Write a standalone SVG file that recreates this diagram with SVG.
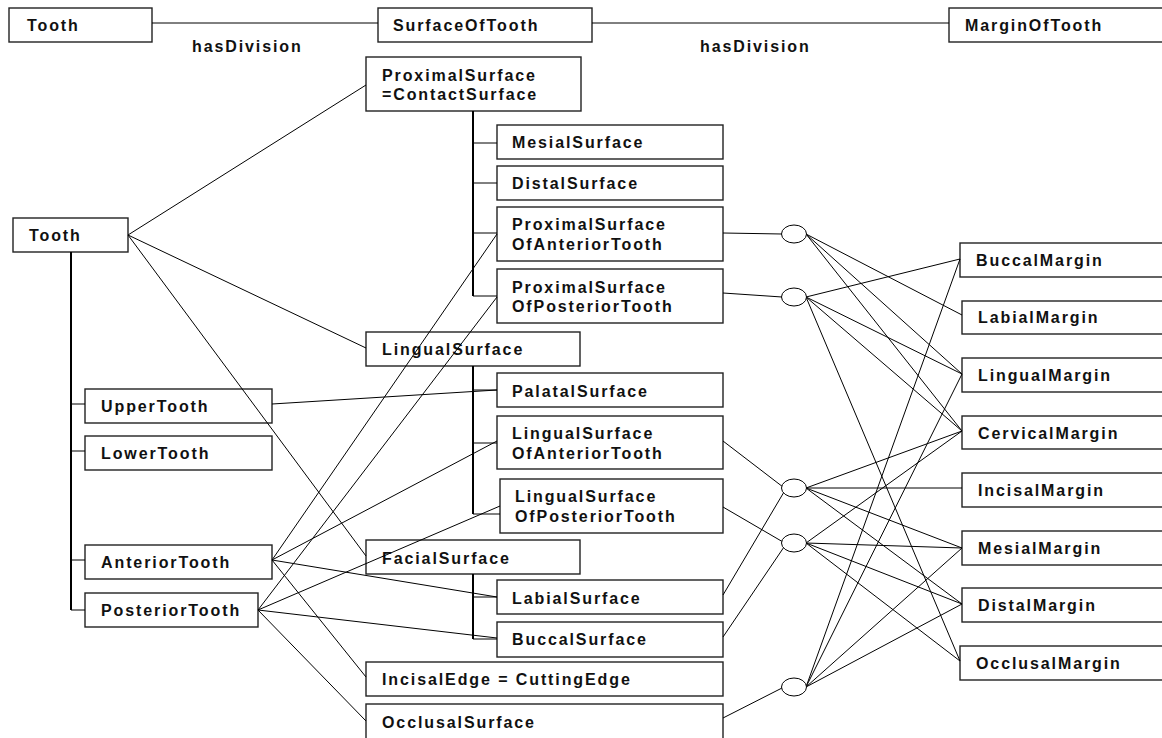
<svg xmlns="http://www.w3.org/2000/svg" width="1162" height="738" viewBox="0 0 1162 738">
<style>
.box{fill:#fff;stroke:#222;stroke-width:1.4}
.t{font-family:"Liberation Sans",Arial,sans-serif;font-weight:bold;font-size:16px;letter-spacing:1.9px;fill:#111}
.c line{stroke:#000;stroke-width:1;fill:none}
.c .thick{stroke-width:2}
.el{fill:#fff;stroke:#000;stroke-width:1}
</style>
<rect width="1162" height="738" fill="#fff"/>
<g id="top-tooth"><rect class="box" x="9" y="8" width="143" height="34"/><text class="t" x="27" y="31">Tooth</text></g>
<g id="top-surface"><rect class="box" x="378" y="8" width="214" height="34"/><text class="t" x="393" y="31">SurfaceOfTooth</text></g>
<g id="top-margin"><rect class="box" x="949" y="8" width="230" height="34"/><text class="t" x="965" y="31">MarginOfTooth</text></g>
<g id="lbl1"><text class="t" x="192" y="52">hasDivision</text></g>
<g id="lbl2"><text class="t" x="700" y="52">hasDivision</text></g>
<g id="tooth"><rect class="box" x="13" y="218" width="115" height="34"/><text class="t" x="29" y="241">Tooth</text></g>
<g id="upper"><rect class="box" x="85" y="389" width="187" height="34"/><text class="t" x="101" y="412">UpperTooth</text></g>
<g id="lower"><rect class="box" x="85" y="436" width="187" height="34"/><text class="t" x="101" y="459">LowerTooth</text></g>
<g id="anterior"><rect class="box" x="85" y="545" width="187" height="34"/><text class="t" x="101" y="568">AnteriorTooth</text></g>
<g id="posterior"><rect class="box" x="85" y="593" width="173" height="34"/><text class="t" x="101" y="616">PosteriorTooth</text></g>
<g id="proximal"><rect class="box" x="366" y="57" width="215" height="54"/><text class="t" x="382" y="81">ProximalSurface</text><text class="t" x="382" y="100">=ContactSurface</text></g>
<g id="mesialS"><rect class="box" x="497" y="125" width="226" height="34"/><text class="t" x="512" y="148">MesialSurface</text></g>
<g id="distalS"><rect class="box" x="497" y="166" width="226" height="34"/><text class="t" x="512" y="189">DistalSurface</text></g>
<g id="proxAnt"><rect class="box" x="497" y="207" width="226" height="54"/><text class="t" x="512" y="230">ProximalSurface</text><text class="t" x="512" y="250">OfAnteriorTooth</text></g>
<g id="proxPost"><rect class="box" x="497" y="269" width="226" height="54"/><text class="t" x="512" y="293">ProximalSurface</text><text class="t" x="512" y="312">OfPosteriorTooth</text></g>
<g id="lingual"><rect class="box" x="366" y="332" width="214" height="34"/><text class="t" x="382" y="355">LingualSurface</text></g>
<g id="palatal"><rect class="box" x="497" y="373" width="226" height="34"/><text class="t" x="512" y="397">PalatalSurface</text></g>
<g id="lingAnt"><rect class="box" x="497" y="416" width="226" height="53"/><text class="t" x="512" y="439">LingualSurface</text><text class="t" x="512" y="459">OfAnteriorTooth</text></g>
<g id="lingPost"><rect class="box" x="500" y="479" width="223" height="54"/><text class="t" x="515" y="502">LingualSurface</text><text class="t" x="515" y="522">OfPosteriorTooth</text></g>
<g id="facial"><rect class="box" x="366" y="540" width="214" height="34"/><text class="t" x="382" y="564">FacialSurface</text></g>
<g id="labialS"><rect class="box" x="497" y="580" width="226" height="34"/><text class="t" x="512" y="604">LabialSurface</text></g>
<g id="buccalS"><rect class="box" x="497" y="622" width="226" height="35"/><text class="t" x="512" y="645">BuccalSurface</text></g>
<g id="incisalE"><rect class="box" x="366" y="662" width="357" height="34"/><text class="t" x="382" y="685">IncisalEdge = CuttingEdge</text></g>
<g id="occlusalS"><rect class="box" x="366" y="704" width="357" height="44"/><text class="t" x="382" y="728">OcclusalSurface</text></g>
<g id="buccalM"><rect class="box" x="960" y="243" width="220" height="34"/><text class="t" x="976" y="266">BuccalMargin</text></g>
<g id="labialM"><rect class="box" x="962" y="301" width="220" height="33"/><text class="t" x="978" y="323">LabialMargin</text></g>
<g id="lingualM"><rect class="box" x="962" y="358" width="220" height="34"/><text class="t" x="978" y="381">LingualMargin</text></g>
<g id="cervicalM"><rect class="box" x="962" y="416" width="220" height="33"/><text class="t" x="978" y="439">CervicalMargin</text></g>
<g id="incisalM"><rect class="box" x="962" y="473" width="220" height="34"/><text class="t" x="978" y="496">IncisalMargin</text></g>
<g id="mesialM"><rect class="box" x="962" y="531" width="220" height="34"/><text class="t" x="978" y="554">MesialMargin</text></g>
<g id="distalM"><rect class="box" x="962" y="588" width="220" height="34"/><text class="t" x="978" y="611">DistalMargin</text></g>
<g id="occlusalM"><rect class="box" x="960" y="646" width="220" height="34"/><text class="t" x="976" y="669">OcclusalMargin</text></g>
<g class="c" id="connectors">
<line x1="152" y1="23" x2="378" y2="23"/>
<line x1="592" y1="23" x2="949" y2="23"/>
<line class="thick" x1="71" y1="252" x2="71" y2="610"/>
<line x1="71" y1="404" x2="85" y2="404"/>
<line x1="71" y1="451" x2="85" y2="451"/>
<line x1="71" y1="560" x2="85" y2="560"/>
<line x1="71" y1="610" x2="85" y2="610"/>
<line class="thick" x1="473" y1="111" x2="473" y2="296"/>
<line x1="473" y1="143" x2="497" y2="143"/>
<line x1="473" y1="183" x2="497" y2="183"/>
<line x1="473" y1="233" x2="497" y2="233"/>
<line x1="473" y1="296" x2="497" y2="296"/>
<line class="thick" x1="473" y1="366" x2="473" y2="514"/>
<line x1="473" y1="390" x2="497" y2="390"/>
<line x1="473" y1="443" x2="497" y2="443"/>
<line x1="473" y1="514" x2="500" y2="514"/>
<line class="thick" x1="473" y1="574" x2="473" y2="639"/>
<line x1="473" y1="597" x2="497" y2="597"/>
<line x1="473" y1="639" x2="497" y2="639"/>
<line x1="128" y1="235" x2="366" y2="85"/>
<line x1="128" y1="235" x2="366" y2="348"/>
<line x1="128" y1="235" x2="366" y2="556"/>
<line x1="272" y1="404" x2="497" y2="390"/>
<line x1="272" y1="560" x2="497" y2="234"/>
<line x1="272" y1="560" x2="497" y2="441"/>
<line x1="272" y1="560" x2="497" y2="597"/>
<line x1="272" y1="560" x2="366" y2="677"/>
<line x1="258" y1="610" x2="497" y2="297"/>
<line x1="258" y1="610" x2="500" y2="506"/>
<line x1="258" y1="610" x2="497" y2="638"/>
<line x1="258" y1="610" x2="366" y2="721"/>
<line x1="723" y1="233" x2="782" y2="234"/>
<line x1="723" y1="293" x2="782" y2="297"/>
<line x1="723" y1="441" x2="783" y2="487"/>
<line x1="723" y1="507" x2="783" y2="542"/>
<line x1="723" y1="595" x2="784" y2="492"/>
<line x1="723" y1="637" x2="784" y2="547"/>
<line x1="723" y1="718" x2="782" y2="688"/>
<line x1="806" y1="234" x2="962" y2="315"/>
<line x1="806" y1="234" x2="962" y2="374"/>
<line x1="806" y1="234" x2="962" y2="431"/>
<line x1="806" y1="297" x2="960" y2="259"/>
<line x1="806" y1="297" x2="962" y2="374"/>
<line x1="806" y1="297" x2="962" y2="431"/>
<line x1="806" y1="297" x2="960" y2="661"/>
<line x1="806" y1="488" x2="962" y2="431"/>
<line x1="806" y1="488" x2="962" y2="488"/>
<line x1="806" y1="488" x2="962" y2="548"/>
<line x1="806" y1="488" x2="962" y2="604"/>
<line x1="806" y1="543" x2="962" y2="431"/>
<line x1="806" y1="543" x2="962" y2="548"/>
<line x1="806" y1="543" x2="962" y2="604"/>
<line x1="806" y1="543" x2="960" y2="661"/>
<line x1="806" y1="687" x2="960" y2="259"/>
<line x1="806" y1="687" x2="962" y2="374"/>
<line x1="806" y1="687" x2="962" y2="548"/>
<line x1="806" y1="687" x2="962" y2="604"/>
</g>
<g id="e1"><ellipse class="el" cx="794" cy="234" rx="12.5" ry="9"/></g>
<g id="e2"><ellipse class="el" cx="794" cy="297" rx="12.5" ry="9"/></g>
<g id="e3"><ellipse class="el" cx="794" cy="488" rx="12.5" ry="9"/></g>
<g id="e4"><ellipse class="el" cx="794" cy="543" rx="12.5" ry="9"/></g>
<g id="e5"><ellipse class="el" cx="794" cy="687" rx="12.5" ry="9"/></g>
</svg>
